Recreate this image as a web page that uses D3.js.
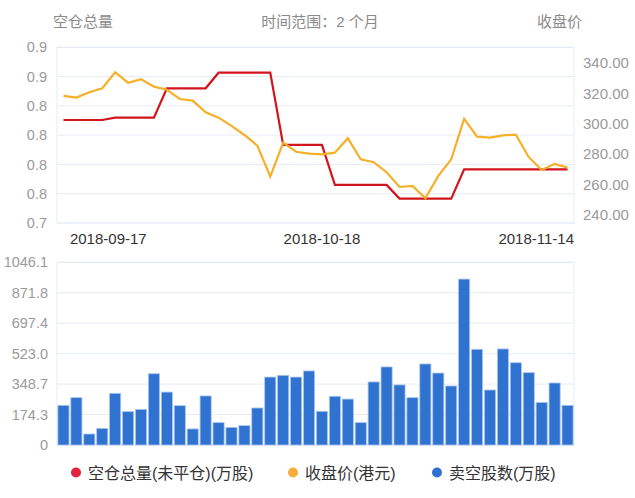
<!DOCTYPE html>
<html>
<head>
<meta charset="utf-8">
<script src="https://cdn.jsdelivr.net/npm/d3@7/dist/d3.min.js"></script>
<style>
  body { margin: 0; background: #fff; }
  svg { font-family: "Liberation Sans", "Noto Sans CJK SC", sans-serif; }
</style>
</head>
<body>
<svg id="chart"></svg>
<script>
let dates = [
  "2018-09-17","2018-09-18","2018-09-19","2018-09-20","2018-09-21","2018-09-24",
  "2018-09-26","2018-09-27","2018-09-28","2018-10-02","2018-10-03","2018-10-04",
  "2018-10-05","2018-10-08","2018-10-09","2018-10-10","2018-10-11","2018-10-12",
  "2018-10-15","2018-10-16","2018-10-18","2018-10-19","2018-10-22","2018-10-23",
  "2018-10-24","2018-10-25","2018-10-26","2018-10-29","2018-10-30","2018-10-31",
  "2018-11-01","2018-11-02","2018-11-05","2018-11-06","2018-11-07","2018-11-08",
  "2018-11-09","2018-11-12","2018-11-13","2018-11-14"
];

// 空仓总量(未平仓)
let shortTotal = [
  0.8305,0.8305,0.8305,0.8305,0.833,0.833,0.833,0.833,0.863,0.863,
  0.863,0.863,0.879,0.879,0.879,0.879,0.879,0.805,0.805,0.805,
  0.805,0.764,0.764,0.764,0.764,0.764,0.750,0.750,0.750,0.750,
  0.750,0.780,0.780,0.780,0.780,0.780,0.780,0.780,0.780,0.780
];

// 收盘价(港元)
let closePrice = [
  318.3,317.2,320.7,323.4,333.9,327.0,329.3,324.4,322.4,316.3,
  315.2,307.6,304.0,298.6,292.6,285.6,265.2,287.6,281.6,280.3,
  279.9,281.0,290.5,276.6,274.7,268.1,258.4,259.1,251.0,265.7,
  276.6,303.2,291.5,290.9,292.4,292.8,278.0,269.6,273.6,271.1
];

// 卖空股数(万股)
let shortVolume = [
  227,271,63,95,296,191,204,408,303,225,
  92,281,128,101,111,212,389,399,389,424,
  193,279,263,128,361,447,344,271,464,412,
  338,950,548,315,550,471,414,244,355,227
];

let leftTickLabels = ["0.7","0.8","0.8","0.8","0.8","0.9","0.9"];
let rightTicks = [240,260,280,300,320,340];
let barTicks = [0,174.3,348.7,523.0,697.4,871.8,1046.1];
let dateLabels = ["2018-09-17","2018-10-18","2018-11-14"];

let legendItems = [
  { name: "空仓总量(未平仓)(万股)", color: "#e3223c" },
  { name: "收盘价(港元)", color: "#f6ad3b" },
  { name: "卖空股数(万股)", color: "#2f72d3" }
];

let width = 635;
let height = 498;
let left = 57;
let right = 574;
let top1 = 47.3, bottom1 = 223;
let top2 = 262.3, bottom2 = 445;

let gridColor = "#e6ebf3";
let labelColor = "#9a9a9a";

let svg = d3.select("#chart").attr("width", width).attr("height", height);

let xBand = d3.scaleBand().domain(dates).range([left, right]).paddingInner(0.14).paddingOuter(0.07);
let xPoint = d3.scaleBand().domain(dates).range([left, right]);
let cx = (d) => xPoint(d) + xPoint.bandwidth() / 2;

let yLeft = d3.scaleLinear().domain([0.725, 0.905]).range([bottom1, top1]);
let yRight = d3.scaleLinear().domain([234.7, 350.3]).range([bottom1, top1]);
let yBar = d3.scaleLinear().domain([0, 1046.1]).range([bottom2, top2]);

let leftTickVals = d3.range(7).map((i) => 0.725 + i * 0.03);

// titles
let titles = svg.append("g").attr("font-size", 15).attr("fill", "#8a8a8a");
titles.append("text").attr("x", 53).attr("y", 27).text("空仓总量");
titles.append("text").attr("x", 320).attr("y", 27).attr("text-anchor", "middle").text("时间范围：2 个月");
titles.append("text").attr("x", 582).attr("y", 27).attr("text-anchor", "end").text("收盘价");

// top grid
let grid1 = svg.append("g");
grid1.selectAll("line").data(leftTickVals).enter().append("line")
  .attr("x1", left).attr("x2", right)
  .attr("y1", (d) => yLeft(d)).attr("y2", (d) => yLeft(d))
  .attr("stroke", gridColor).attr("stroke-width", 1);
grid1.append("rect").attr("x", left).attr("y", top1)
  .attr("width", right - left).attr("height", bottom1 - top1)
  .attr("fill", "none").attr("stroke", gridColor);

// left axis
let yAxisL = d3.axisLeft(yLeft).tickValues(leftTickVals)
  .tickFormat((d, i) => leftTickLabels[i]).tickSize(0).tickPadding(10);
svg.append("g").attr("transform", "translate(" + left + ",0)").call(yAxisL)
  .call((g) => g.select(".domain").remove())
  .selectAll("text").attr("fill", labelColor).attr("font-size", 14.5);

// right axis
let yAxisR = d3.axisRight(yRight).tickValues(rightTicks)
  .tickFormat(d3.format(".2f")).tickSize(0).tickPadding(9);
svg.append("g").attr("transform", "translate(" + right + ",0)").call(yAxisR)
  .call((g) => g.select(".domain").remove())
  .selectAll("text").attr("fill", labelColor).attr("font-size", 15);

// date labels
let dl = svg.append("g").attr("font-size", 15).attr("fill", "#333");
dl.append("text").attr("x", xPoint(dateLabels[0]) + xPoint.bandwidth()).attr("y", 244).text(dateLabels[0]);
dl.append("text").attr("x", cx(dateLabels[1])).attr("y", 244).attr("text-anchor", "middle").text(dateLabels[1]);
dl.append("text").attr("x", right).attr("y", 244).attr("text-anchor", "end").text(dateLabels[2]);

// lines
let priceLine = d3.line().x((d, i) => cx(dates[i])).y((d) => yRight(d));
let totalLine = d3.line().x((d, i) => cx(dates[i])).y((d) => yLeft(d));

svg.append("path").datum(shortTotal).attr("d", totalLine)
  .attr("fill", "none").attr("stroke", "#d2151d").attr("stroke-width", 2.2);
svg.append("path").datum(closePrice).attr("d", priceLine)
  .attr("fill", "none").attr("stroke", "#f6b027").attr("stroke-width", 2.2);

// bottom grid
let grid2 = svg.append("g");
grid2.selectAll("line").data(barTicks).enter().append("line")
  .attr("x1", left).attr("x2", right)
  .attr("y1", (d) => yBar(d)).attr("y2", (d) => yBar(d))
  .attr("stroke", gridColor);
grid2.append("rect").attr("x", left).attr("y", top2)
  .attr("width", right - left).attr("height", bottom2 - top2)
  .attr("fill", "none").attr("stroke", gridColor);

let barAxis = d3.axisLeft(yBar).tickValues(barTicks)
  .tickFormat((d) => d === 0 ? "0" : d3.format(".1f")(d)).tickSize(0).tickPadding(9);
svg.append("g").attr("transform", "translate(" + left + ",0)").call(barAxis)
  .call((g) => g.select(".domain").remove())
  .selectAll("text").attr("fill", labelColor).attr("font-size", 14.5);

// bars
svg.append("g").selectAll("rect").data(shortVolume).enter().append("rect")
  .attr("x", (d, i) => xBand(dates[i]))
  .attr("y", (d) => yBar(d))
  .attr("width", xBand.bandwidth())
  .attr("height", (d) => bottom2 - yBar(d))
  .attr("fill", "#2f72d0")
  .attr("stroke", "#a9c6ef")
  .attr("stroke-width", 0.8);

// legend
let legendX = [76, 293, 437];
let legend = svg.append("g");
legendItems.forEach((item, i) => {
  legend.append("circle").attr("cx", legendX[i]).attr("cy", 472.5).attr("r", 5).attr("fill", item.color);
  legend.append("text").attr("x", legendX[i] + 12).attr("y", 478.5)
    .attr("font-size", 16).attr("fill", "#333").text(item.name);
});
</script>
</body>
</html>
